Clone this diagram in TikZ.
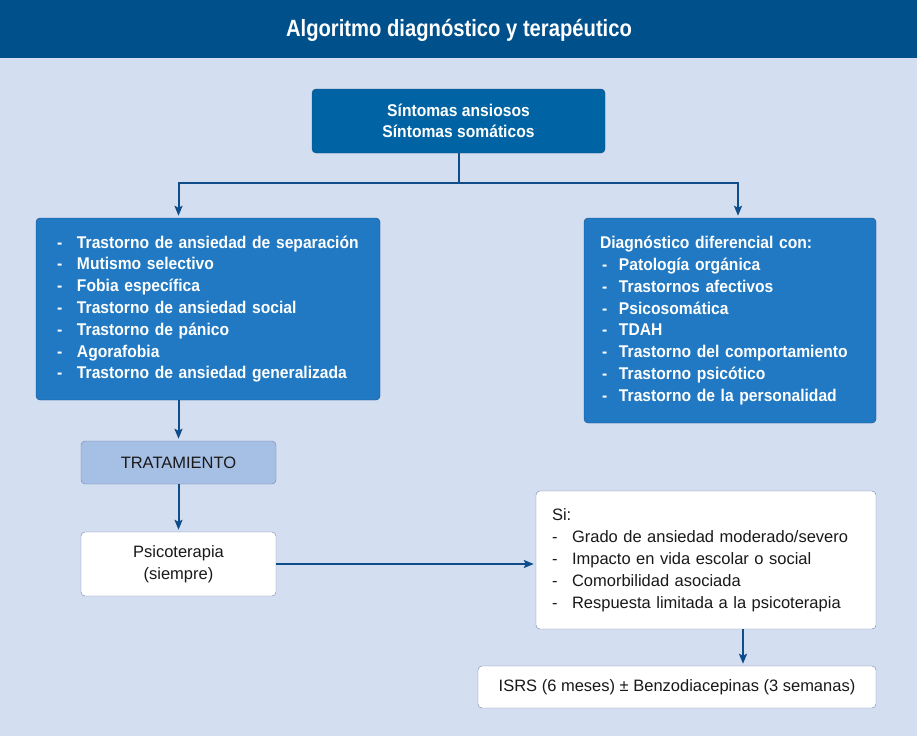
\documentclass[tikz,border=0pt]{standalone}
\usepackage{fontspec}
\setmainfont{Liberation Sans}[BoldFeatures={FakeStretch=0.92}]
\newfontfamily\titlefont{Liberation Sans}[FakeStretch=0.86]
\usepackage{tikz}
\usetikzlibrary{positioning, arrows.meta, calc}
\definecolor{banda}{HTML}{00508C}
\definecolor{fondo}{HTML}{D4DEF1}
\definecolor{azuloscuro}{HTML}{0063A3}
\definecolor{azul}{HTML}{2079C2}
\definecolor{borde}{HTML}{1A4F86}
\definecolor{flecha}{HTML}{0E4D8A}
\definecolor{celeste}{HTML}{A6BFE4}
\definecolor{gris}{HTML}{6E86A8}
\tikzstyle{inicio} = [rectangle, rounded corners=4pt, minimum width=293pt, minimum height=64pt, text centered, align=center, draw=borde, fill=azuloscuro, text=white, font=\fontsize{17}{21.5}\selectfont\bfseries]
\tikzstyle{lista} = [rectangle, rounded corners=4pt, align=left, draw=borde, fill=azul, text=white, font=\fontsize{17}{21.8}\selectfont\bfseries]
\tikzstyle{tratbox} = [rectangle, rounded corners=4pt, minimum width=195pt, minimum height=43pt, text centered, draw=gris, fill=celeste, text=black!90, font=\fontsize{16.5}{21}\selectfont]
\tikzstyle{blanca} = [rectangle, rounded corners=4pt, draw=gris, fill=white, text=black!90, font=\fontsize{16.5}{22}\selectfont]
\tikzstyle{arrow} = [line width=2pt, draw=flecha, -{Stealth[length=10pt, width=8pt, inset=2pt]}, shorten >=2pt]
\tikzstyle{linea} = [line width=2pt, draw=flecha]
\newcommand{\guion}[1]{\makebox[20pt][l]{-}#1}
\newcommand{\guiond}[1]{\makebox[19pt][l]{\hspace{2pt}-}#1}

\begin{document}
\begin{tikzpicture}[x=1pt, y=-1pt, node distance=10pt]
        \useasboundingbox (0,0) rectangle (917,736);
        \fill[fondo] (0,0) rectangle (917,736);
        \fill[banda] (0,0) rectangle (917,58);
        \node[text=white, font=\fontsize{23.5}{28}\selectfont\titlefont\bfseries] (titulo) at (459,30) {Algoritmo diagnóstico y terapéutico};

        \node[inicio]                                          (sintomas)     at (458.5,121) {Síntomas ansiosos\\Síntomas somáticos};
        \node[lista, minimum width=344pt, minimum height=182pt, text width=302pt]  (trastornos)   at (208,309) {\guion{Trastorno de ansiedad de separación}\\\guion{Mutismo selectivo}\\\guion{Fobia específica}\\\guion{Trastorno de ansiedad social}\\\guion{Trastorno de pánico}\\\guion{Agorafobia}\\\guion{Trastorno de ansiedad generalizada}};
        \node[lista, minimum width=292pt, minimum height=205pt, text width=260pt]  (diferencial)  at (730,320.5) {Diagnóstico diferencial con:\\\guiond{Patología orgánica}\\\guiond{Trastornos afectivos}\\\guiond{Psicosomática}\\\guiond{TDAH}\\\guiond{Trastorno del comportamiento}\\\guiond{Trastorno psicótico}\\\guiond{Trastorno de la personalidad}};
        \node[tratbox]                                         (tratamiento)  at (178.5,462.5) {TRATAMIENTO};
        \node[blanca, minimum width=195pt, minimum height=64pt, align=center] (psicoterapia) at (178.5,564) {Psicoterapia\\(siempre)};
        \node[blanca, minimum width=340pt, minimum height=138pt, text width=308pt, align=left] (criterios) at (706,560) {Si:\\\guion{Grado de ansiedad moderado/severo}\\\guion{Impacto en vida escolar o social}\\\guion{Comorbilidad asociada}\\\guion{Respuesta limitada a la psicoterapia}};
        \node[blanca, minimum width=398pt, minimum height=42pt] (isrs)         at (677,687) {ISRS (6 meses) ± Benzodiacepinas (3 semanas)};

        \coordinate (split) at ($(sintomas.south)+(0,30)$);
        \draw[linea] (sintomas.south) -- (split);
        \draw[arrow] (split) -| (trastornos.north -| tratamiento.north);
        \draw[arrow] (split) -| ($(diferencial.north)+(8,0)$);
        \draw[arrow] (trastornos.south -| tratamiento.north) -- (tratamiento.north);
        \draw[arrow] (tratamiento.south) -- (psicoterapia.north);
        \draw[arrow] (psicoterapia.east) -- (psicoterapia.east -| criterios.west);
        \draw[arrow] ($(criterios.south)+(37,0)$) -- ($(isrs.north)+(66,0)$);
    \end{tikzpicture}
\end{document}
